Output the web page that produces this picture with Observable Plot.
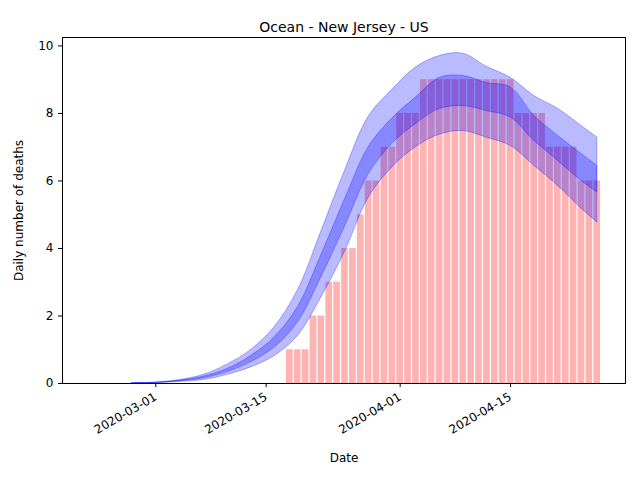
<!DOCTYPE html>
<html>
<head>
<meta charset="utf-8">
<script src="https://cdn.jsdelivr.net/npm/d3@7"></script>
<script src="https://cdn.jsdelivr.net/npm/@observablehq/plot@0.6"></script>
<style>body{margin:0;background:#fff}</style>
</head>
<body>
<div id="chart-container"></div>
<script>
// daily deaths, 2020-03-18 .. 2020-04-26
const barStart = "2020-03-18";
const deaths = [1,1,1,2,2,3,3,4,4,5,6,6,7,7,8,8,8,9,9,9,9,9,9,9,9,9,9,9,9,8,8,8,8,7,7,7,7,6,6,6];

// model bands
const bandDates = ["2020-02-27","2020-03-01","2020-03-04","2020-03-07","2020-03-10","2020-03-13","2020-03-16",
  "2020-03-19","2020-03-22","2020-03-25","2020-03-28","2020-03-31","2020-04-03","2020-04-06","2020-04-09",
  "2020-04-12","2020-04-15","2020-04-18","2020-04-21","2020-04-24","2020-04-26"];
const outerHi = [0.01,0.03,0.1,0.25,0.55,0.98,1.65,2.75,4.5,6.3,7.9,8.7,9.36,9.7,9.77,9.38,9.06,8.52,8.14,7.63,7.29];
const innerHi = [0.01,0.02,0.08,0.2,0.42,0.8,1.35,2.25,3.8,5.45,7.0,7.85,8.47,9.05,9.11,8.9,8.77,7.93,7.34,6.8,6.45];
const innerLo = [0,0.02,0.06,0.15,0.33,0.62,1.05,1.8,3.15,4.65,6.2,7.1,7.69,8.13,8.22,8.07,7.88,7.19,6.6,6.0,5.66];
const outerLo = [0,0.01,0.05,0.1,0.25,0.47,0.8,1.4,2.55,3.9,5.5,6.4,7.0,7.37,7.48,7.28,7.04,6.45,5.86,5.18,4.77];

const xTicks = ["2020-03-01","2020-03-15","2020-04-01","2020-04-15"];

const day = 864e5;
const bars = deaths.map((v, i) => ({date: new Date(Date.parse(barStart) + i * day), v}));
const bands = bandDates.map((d, i) => ({date: new Date(d), oh: outerHi[i], ih: innerHi[i], il: innerLo[i], ol: outerLo[i]}));

const plot = Plot.plot({
  width: 640,
  height: 480,
  marginTop: 37,
  marginLeft: 62,
  marginRight: 15,
  marginBottom: 97,
  style: {fontFamily: "DejaVu Sans", fontSize: "12px", color: "#000"},
  x: {type: "utc", domain: [new Date("2020-02-18T04:00Z"), new Date("2020-04-29T14:00Z")],
      ticks: xTicks.map(d => new Date(d)), tickFormat: d3.utcFormat("%Y-%m-%d"),
      tickRotate: -30, label: "Date", labelAnchor: "center", labelArrow: "none", labelOffset: 78, tickSize: 4},
  y: {domain: [0, 10.25], ticks: [0,2,4,6,8,10], label: "Daily number of deaths",
      labelAnchor: "center", labelArrow: "none", labelOffset: 48, tickSize: 4},
  marks: [
    Plot.rectY(bars, {x1: d => new Date(+d.date - 0.5 * day), x2: d => new Date(+d.date + 0.5 * day),
      y: "v", fill: "red", fillOpacity: 0.3, insetLeft: 0.6, insetRight: 0.6}),
    Plot.areaY(bands, {x: "date", y1: "ol", y2: "oh", fill: "blue", fillOpacity: 0.27,
      stroke: "blue", strokeOpacity: 0.3, curve: "catmull-rom"}),
    Plot.areaY(bands, {x: "date", y1: "il", y2: "ih", fill: "blue", fillOpacity: 0.27,
      stroke: "blue", strokeOpacity: 0.3, curve: "catmull-rom"}),
    Plot.frame({stroke: "#000"}),
    Plot.text(["Ocean - New Jersey - US"], {frameAnchor: "top", dy: -15, fontSize: 14})
  ]
});
document.getElementById("chart-container").appendChild(plot);
</script>
</body>
</html>
